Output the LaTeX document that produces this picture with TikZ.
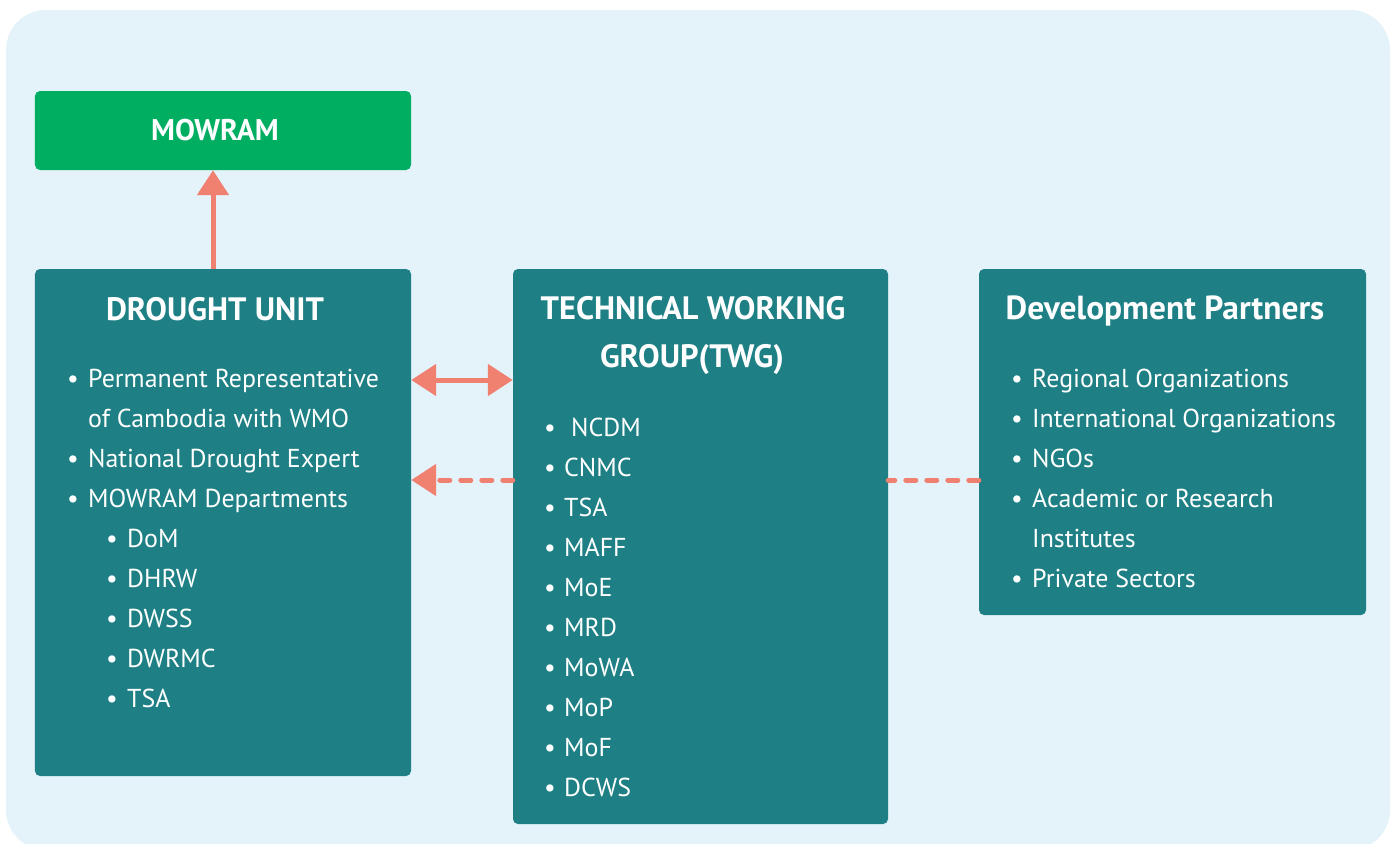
\documentclass[tikz,border=0pt]{standalone}
\usepackage{fontspec}
\setmainfont{PT Sans}
\usepackage{xcolor}
\usetikzlibrary{arrows.meta,positioning}
\definecolor{panelcol}{RGB}{228,242,250}
\definecolor{tealcol}{RGB}{30,128,133}
\definecolor{greencol}{RGB}{0,174,98}
\definecolor{salmoncol}{RGB}{240,128,112}
\newcommand{\bitem}[2][21bp]{\makebox[#1][l]{\textbullet}#2}

\begin{document}
\begin{tikzpicture}[x=1bp,y=-1bp,>={Triangle[length=25bp,width=31bp]},
  box/.style={fill=tealcol,rounded corners=5bp,inner sep=0pt},
  head/.style={anchor=base,text=white,inner sep=0pt,font=\fontsize{32.5}{36}\selectfont\bfseries},
  item/.style={anchor=base west,text=white,inner sep=0pt,font=\fontsize{26}{30}\selectfont},
  link/.style={draw=salmoncol,line width=5bp},
  dashlink/.style={link,line cap=round,dash pattern=on 10bp off 11bp}]
  \useasboundingbox (0,0) rectangle (1397,843);
  \fill[panelcol,rounded corners=40bp] (6,10) rectangle (1390,850);
%%
  % Node: mowram
  \node[box,fill=greencol,minimum width=376bp,minimum height=79bp] (mowram) at (223,130.5) {};
  \node[head,font=\fontsize{30}{34}\selectfont\bfseries] (mowram-title) at (215,140) {MOWRAM};
  % Node: du
  \node[box,minimum width=376bp,minimum height=507bp] (du) at (223,522.5) {};
  \node[head] (du-title) at (215,320) {DROUGHT UNIT};
  \node[item] (du-1) at (67,387) {\bitem{Permanent Representative}};
  \node[item] (du-1b) at (88,427) {of Cambodia with WMO};
  \node[item] (du-2) at (67,467) {\bitem{National Drought Expert}};
  \node[item] (du-3) at (67,507) {\bitem{MOWRAM Departments}};
  \foreach \name [count=\i from 0] in {DoM,DHRW,DWSS,DWRMC,TSA}
    \node[item] (du-sub\i) at (106,547+40*\i) {\bitem{\name}};
  % Node: twg
  \node[box,minimum width=375bp,minimum height=555bp] (twg) at (700.5,546.5) {};
  \node[head] (twg-title1) at (693,319) {TECHNICAL WORKING};
  \node[head] (twg-title2) at (692,367) {GROUP(TWG)};
  \foreach \name [count=\i from 0] in {{\ NCDM},CNMC,TSA,MAFF,MoE,MRD,MoWA,MoP,MoF,DCWS}
    \node[item] (twg-\i) at (544,436+40*\i) {\bitem[20bp]{\name}};
  % Node: dp
  \node[box,minimum width=387bp,minimum height=346bp] (dp) at (1172.5,442) {};
  \node[head,font=\fontsize{33.5}{36}\selectfont\bfseries] (dp-title) at (1165,319) {Development Partners};
  \node[item] (dp-1) at (1011,387) {\bitem{Regional Organizations}};
  \node[item] (dp-2) at (1011,427) {\bitem{International Organizations}};
  \node[item] (dp-3) at (1011,467) {\bitem{NGOs}};
  \node[item] (dp-4) at (1011,507) {\bitem{Academic or Research}};
  \node[item] (dp-4b) at (1032,547) {Institutes};
  \node[item] (dp-5) at (1011,587) {\bitem{Private Sectors}};
%%
  \coordinate (upx) at (213,220);
  \coordinate (upper) at (462,380);
  \coordinate (lower) at (462,480);
  % Edge: du -> mowram
  \draw[link,->] (upx |- du.north) -- (upx |- mowram.south);
  % Edge: du <-> twg
  \draw[link,<->] (du.east |- upper) -- (twg.west |- upper);
  % Edge: twg -> du
  \draw[dashlink,->] (twg.west |- lower) -- (du.east |- lower);
  % Edge: dp -- twg
  \draw[dashlink] (dp.west |- lower) -- (twg.east |- lower);
%
\end{tikzpicture}
\end{document}
